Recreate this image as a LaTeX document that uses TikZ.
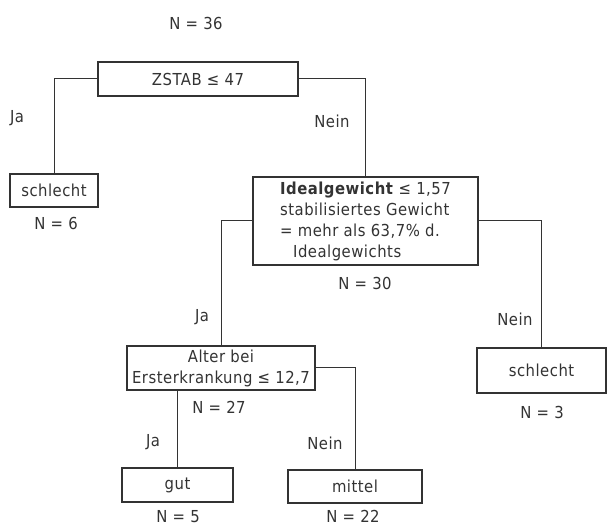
\documentclass[tikz,border=0pt]{standalone}
\usepackage{fontspec}
\setmainfont[FakeStretch=0.9,LetterSpace=3]{DejaVu Sans}
\definecolor{ink}{HTML}{333333}
\begin{document}
\begin{tikzpicture}[x=1pt,y=-1pt,
  every node/.style={font=\fontsize{16.5}{21}\selectfont, text=ink, inner sep=0pt},
  box/.style={draw=ink, line width=1.1pt, minimum width=#1},
  conn/.style={draw=ink, line width=1pt}]
\useasboundingbox (0,0) rectangle (608,526);
\node (n36) at (196,23) {N = 36};
\node[box=200, minimum height=34] (zstab) at (198,79) {ZSTAB ≤ 47};
\node (ja1) at (17,118) {Ja};
\node (nein1) at (332,121) {Nein};
\node[box=88, minimum height=33] (s1) at (54,190.5) {schlecht};
\node (n6) at (56,223) {N = 6};
\node[box=225, minimum height=88, align=left] (ideal) at (365.5,221)
  {\textbf{Idealgewicht} ≤ 1,57\\stabilisiertes Gewicht\\= mehr als 63,7\% d.\\\hspace*{13pt}Idealgewichts};
\node (n30) at (365,283) {N = 30};
\node (ja2) at (202,317) {Ja};
\node (nein2) at (515,319) {Nein};
\node[box=188, minimum height=44, align=center] (alter) at (221,368) {Alter bei\\Ersterkrankung ≤ 12,7};
\node (n27) at (219,407) {N = 27};
\node[box=129, minimum height=45] (s2) at (541.5,370.5) {schlecht};
\node (n3) at (542,412) {N = 3};
\node (ja3) at (153,442) {Ja};
\node (nein3) at (325,443) {Nein};
\node[box=111, minimum height=34] (gut) at (177.5,485) {gut};
\node (n5) at (178,516.5) {N = 5};
\node[box=134, minimum height=33] (mittel) at (355,486.5) {mittel};
\node (n22) at (353,516.5) {N = 22};
\draw[conn] (zstab.west) -| (s1.north);
\draw[conn] (zstab.east) -| (ideal.north);
\draw[conn] (ideal.west) -| (alter.north);
\draw[conn] (ideal.east) -| (s2.north);
\draw[conn] (alter.south -| gut.north) -- (gut.north);
\draw[conn] (alter.east) -| (mittel.north);
\end{tikzpicture}
\end{document}
